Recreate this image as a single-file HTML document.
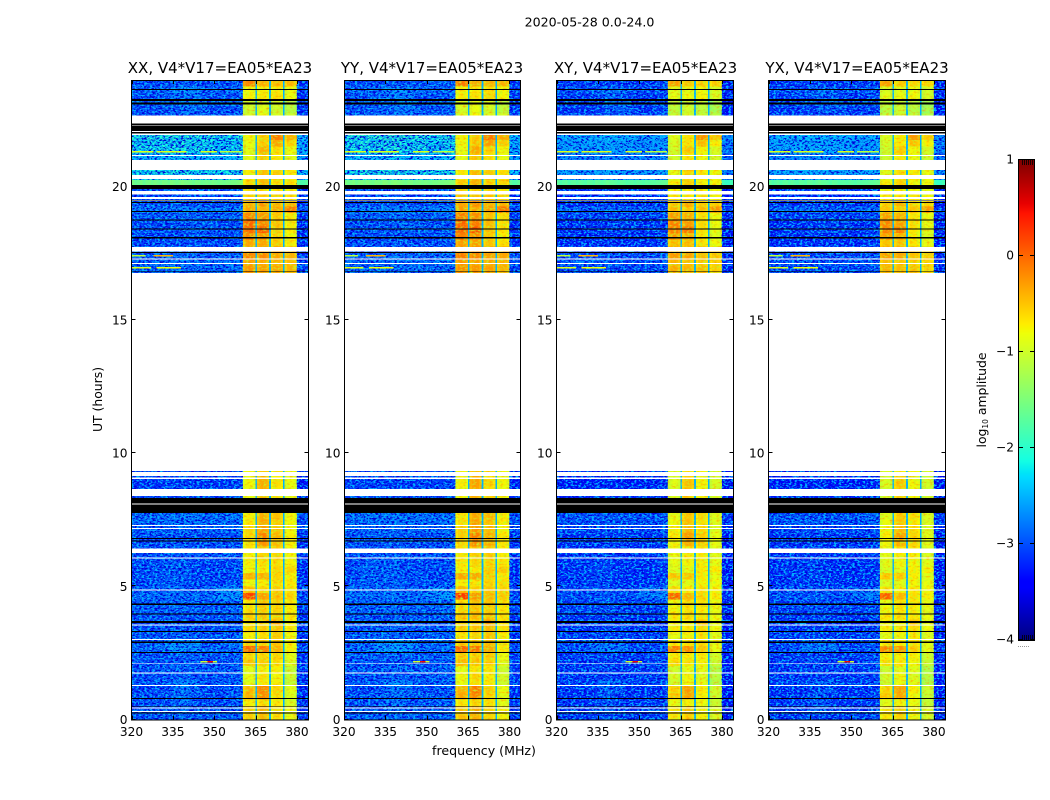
<!DOCTYPE html>
<html lang="en">
<head>
<meta charset="utf-8">
<title>2020-05-28 0.0-24.0</title>
<style>
html,body{margin:0;padding:0;background:#fff;}
svg{display:block;}
text{font-family:"DejaVu Sans","Liberation Sans",sans-serif;fill:#000;}
</style>
</head>
<body>
<svg id="figure" xmlns="http://www.w3.org/2000/svg" width="1050" height="800" viewBox="0 0 1050 800">
  <defs>
    <filter id="speckle" x="0" y="0" width="100%" height="100%" color-interpolation-filters="sRGB">
      <feTurbulence type="fractalNoise" baseFrequency="0.38 0.6" numOctaves="2" seed="7" result="noise"/>
      <feColorMatrix in="noise" type="matrix" values="0 0 0 0 0  0 0 0 0 0  0 0 0 0 0.85  7 0 0 0 -3.3" result="darkSpots"/>
      <feColorMatrix in="noise" type="matrix" values="0 0 0 0 0  0 0 0 0 0.68  0 0 0 0 1  0 7 0 0 -3.5" result="lightSpots"/>
      <feMerge>
        <feMergeNode in="darkSpots"/>
        <feMergeNode in="lightSpots"/>
      </feMerge>
    </filter>
    <filter id="bandSpeckle" x="0" y="0" width="100%" height="100%" color-interpolation-filters="sRGB">
      <feTurbulence type="fractalNoise" baseFrequency="0.3 0.5" numOctaves="2" seed="11" result="noise"/>
      <feColorMatrix in="noise" type="matrix" values="0 0 0 0 1  0 0 0 0 0.6  0 0 0 0 0  2.2 0 0 0 -1.1" result="warmSpots"/>
      <feColorMatrix in="noise" type="matrix" values="0 0 0 0 0.75  0 0 0 0 1  0 0 0 0 0.15  0 2.5 0 0 -1.2" result="coolSpots"/>
      <feMerge>
        <feMergeNode in="warmSpots"/>
        <feMergeNode in="coolSpots"/>
      </feMerge>
    </filter>
  </defs>
  <text x="589.5" y="26.5" font-size="12.6" text-anchor="middle">2020-05-28 0.0-24.0</text>
  <text x="220" y="73" font-size="15" text-anchor="middle">XX, V4*V17=EA05*EA23</text>
  <text x="432" y="73" font-size="15" text-anchor="middle">YY, V4*V17=EA05*EA23</text>
  <text x="645.5" y="73" font-size="15" text-anchor="middle">XY, V4*V17=EA05*EA23</text>
  <text x="857" y="73" font-size="15" text-anchor="middle">YX, V4*V17=EA05*EA23</text>
  <text x="484" y="755" font-size="12.6" text-anchor="middle">frequency (MHz)</text>
  <text x="102" y="399.5" font-size="12.4" text-anchor="middle" transform="rotate(-90 102 399.5)">UT (hours)</text>
  <text x="986" y="400" font-size="12.4" text-anchor="middle" transform="rotate(-90 986 400)">log<tspan font-size="7.5" dy="2">10</tspan><tspan dy="-2"> amplitude</tspan></text>
  <g id="panels"></g>
  <g id="colorbar"></g>
</svg>
<script>
// ---- Chart data ----
const panelNames = ['xx', 'yy', 'xy', 'yx'];
const panelBackgroundOffset = [-0.13, -0.1, -0.28, -0.28];
const panelBandOffset = [0, 0.05, -0.12, -0.15];
// Extra brightness of the 20-22 h background, which is lighter in XX and YY.
const lateBackgroundStartHour = 20.25;
const lateBackgroundEndHour = 22;
const panelLateOffset = [0.25, 0.25, 0, 0.05];
// Rows brighter than this stay solid (no speckle), such as the green 20 h strip.
const solidRowThreshold = -2;

// UT bins of 0.25 h, starting at 0 h. null = no data.
const utBinHours = 0.25;
const backgroundLevel = [
  -2.85,-2.9,-2.9,-2.9,-2.95,-2.85,-2.9,-2.85,
  -2.9,-2.85,-2.75,-2.8,-2.85,-2.9,-2.85,-2.9,
  -2.8,-2.8,-2.75,-2.8,-2.95,-2.95,-2.95,-2.95,
  -2.9,-2.95,-2.9,-2.9,-2.8,-2.75,-2.7,-2.85,
  -3,-2.95,-3,-3.05,-3,-2.9,null,null,
  null,null,null,null,null,null,null,null,
  null,null,null,null,null,null,null,null,
  null,null,null,null,null,null,null,null,
  null,null,null,-2.8,-2.75,-2.8,-2.85,-2.95,
  -2.95,-2.9,-2.95,-2.85,-2.65,-2.95,-2.95,-2.9,
  -1.45,-2.25,-2.25,-2.25,-2.45,-2.35,-2.35,-2.25,
  -2.4,-2.8,-2.8,-2.9,-2.8,-2.9,-2.75,-2.9
];
const bandALevel = [
  -.5,-.5,-.7,-.35,-.4,-.85,-.8,-.85,
  -.45,-.55,.05,-.5,-.7,-.55,-.6,-.5,
  -.6,-.65,.25,-.45,-.75,-.35,-.75,-.7,
  -.7,-.65,-.6,-.55,-.55,-.65,-.7,-.7,
  -.8,-.8,-.8,-.75,-.8,-.75,null,null,
  null,null,null,null,null,null,null,null,
  null,null,null,null,null,null,null,null,
  null,null,null,null,null,null,null,null,
  null,null,null,-.2,-.25,-.1,-.2,-.3,
  -.1,.05,.05,-.1,-.3,-.35,-.5,-.6,
  -.55,-.7,-.7,-.5,-.85,-.85,-.8,-.75,
  -.75,-.9,-.9,-1,-.95,-.7,-.75,-.1
];
const bandBLevel = [
  -.4,-.35,-.6,-.15,-.1,-.65,-.6,-.7,
  -.5,-.55,-.05,-.5,-.6,-.5,-.55,-.45,
  -.5,-.45,-.25,-.55,-.7,-.35,-.7,-.6,
  -.55,-.5,-.2,-.1,-.25,-.3,-.35,-.3,
  -.5,-.4,-.35,-.3,-.4,-.5,null,null,
  null,null,null,null,null,null,null,null,
  null,null,null,null,null,null,null,null,
  null,null,null,null,null,null,null,null,
  null,null,null,-.25,-.3,-.15,-.2,-.3,
  -.2,.1,-.1,-.2,-.35,-.2,-.5,-.6,
  -.4,-.45,-.45,-.25,-.5,-.35,-.5,-.5,
  -.5,-.8,-.8,-.85,-.9,-.65,-.7,-.35
];
const bandCLevel = [
  -.6,-.6,-.65,-.6,-.55,-.7,-.75,-.7,
  -.6,-.55,-.35,-.45,-.5,-.45,-.3,-.5,
  -.55,-.5,-.45,-.5,-.6,-.55,-.55,-.6,
  -.55,-.5,-.4,-.4,-.45,-.5,-.45,-.5,
  -.65,-.6,-.65,-.6,-.7,-.6,null,null,
  null,null,null,null,null,null,null,null,
  null,null,null,null,null,null,null,null,
  null,null,null,null,null,null,null,null,
  null,null,null,-.3,-.35,-.3,-.25,-.5,
  -.55,-.5,-.45,-.5,-.3,-.4,-.5,-.6,
  -.6,-.5,-.55,-.4,-.65,-.6,-.3,-.05,
  -.6,-.9,-.9,-1,-.95,-.6,-.65,-.4
];
const bandDLevel = [
  -.8,-.75,-.9,-.9,-.85,-1.05,-1,-1.05,
  -.9,-.85,-.7,-.7,-.75,-.65,-.7,-.65,
  -.7,-.65,-.55,-.6,-.65,-.7,-.55,-.7,
  -.75,-.75,-.7,-.7,-.75,-.75,-.75,-.8,
  -.85,-.8,-.85,-.8,-.85,-.8,null,null,
  null,null,null,null,null,null,null,null,
  null,null,null,null,null,null,null,null,
  null,null,null,null,null,null,null,null,
  null,null,null,-.4,-.4,-.35,-.3,-.65,
  -.75,-.7,-.65,-.65,-.05,-.4,-.6,-.7,
  -.6,-.65,-.65,-.55,-.85,-.8,-.55,-.35,
  -.6,-1,-1,-1.15,-1.15,-.8,-.8,-.4
];
// Per-channel background offset: 320..360 MHz in 1 MHz channels, then 380..384.
const backgroundChannelOffset = [
  .05,-.05,0,.05,-.05,.02,.04,-.02,.05,0,
  -.03,.05,.03,-.02,.08,.05,0,.05,.1,.06,
  .05,.02,-.02,.05,.03,-.03,0,.02,-.02,.03,
  0,-.03,.02,0,.03,.02,.05,.05,.08,.1,.12
];
const edgeChannelOffset = [-.12, -.2, -.2, -.12];
// Four receiver sub-bands and the narrow gaps between them (MHz).
const bandStartMHz = [360.4, 365.5, 370.5, 375.5];
const bandEndMHz = [364.9, 369.9, 374.9, 380];
const gapStartMHz = [364.9, 369.9, 374.9];
const gapEndMHz = [365.5, 370.5, 375.5];
const gapLevel = -2.5;
const bandColumnOffset = [-.15, -.03, 0, -.03, -.12];
// Brighter diffuse patches of the background.
const patchStartHour = [2.5, 1.0, 0.4, 4.5, 22.9, 23.3, 21.25, 18.25, 5.0];
const patchEndHour = [2.9, 1.5, 0.9, 5.0, 23.25, 23.7, 22.0, 18.75, 6.0];
const patchStartMHz = [332, 335, 335, 350, 338, 335, 320, 340, 325];
const patchEndMHz = [345, 345, 342, 360, 348, 345, 350, 350, 340];
const patchGain = [.25, .2, .15, .25, .2, .2, .08, .12, .08];
// Narrow bright interference streaks.
const streakHour = [2.16, 2.16, 21.3, 21.3, 21.3, 21.3, 16.95, 16.95, 17.4, 17.4];
const streakStartMHz = [345, 347.5, 320, 329, 345, 352, 320, 329, 320, 328];
const streakEndMHz = [351, 349.5, 328, 340, 351, 360, 327, 338, 325, 335];
const streakLevel = [-1, .5, -.9, -.9, -.9, -1.1, -.9, -.8, -1.1, -.4];
// Flagged time ranges, shown as white gaps (no data).
const blankStartHour = [22.37,22.27,22.05,21.94,21.14,20.62,20.28,19.71,19.54,19.45,17.56,17.27,17.1,9.33,9.14,9.03,8.39,8.07,7.26,7.15,6.24,6.04,4.84,3.53,2.99,2.08,1.73,1.26,.42,.28];
const blankEndHour = [22.66,22.31,22.08,21.99,21.18,20.99,20.43,19.84,19.6,19.47,17.74,17.3,17.13,16.76,9.29,9.09,8.65,8.11,7.3,7.19,6.41,6.08,4.88,3.56,3.02,2.11,1.76,1.29,.45,.31];
// Fully-zero time ranges, shown as black rows.
const blackStartHour = [23.62,23.22,23.08,22.3,22.08,21.99,19.9,19.48,19.38,19.05,18.73,18.39,18.06,17.5,16.79,8.11,7.75,6.78,6.68,4.3,3.94,3.63,3.29,2.88,2.5,.77,.48,.23];
const blackEndHour = [23.66,23.287,23.156,22.37,22.27,22.05,20.06,19.5,19.43,19.09,18.77,18.43,18.1,17.54,16.82,8.32,8.07,6.82,6.72,4.36,3.98,3.7,3.33,2.92,2.54,.8,.51,.26];
// Axis ticks
const xTickValues = [320, 335, 350, 365, 380];
const xTickLabels = ['320', '335', '350', '365', '380'];
const yTickValues = [0, 5, 10, 15, 20];
const yTickLabels = ['0', '5', '10', '15', '20'];
const colorbarTickValues = [-4, -3, -2, -1, 0, 1];
const colorbarTickLabels = ['\u22124', '\u22123', '\u22122', '\u22121', '0', '1'];

// ---- Layout ----
const panelLeft = [131.5, 344, 556.5, 768.5];
const panelWidth = 176.5, plotTop = 80, plotBottom = 719.5;
const freqMin = 320, freqMax = 384, utMin = 0, utMax = 24;
const vMin = -4, vMax = 1;
const SVGNS = 'http://www.w3.org/2000/svg';
const xScale = (p, f) => panelLeft[p] + (f - freqMin) / (freqMax - freqMin) * panelWidth;
const yScale = h => plotBottom - (h - utMin) / (utMax - utMin) * (plotBottom - plotTop);

// Matplotlib "jet" segments
const jetR = [[0,0],[.35,0],[.66,1],[.89,1],[1,.5]];
const jetG = [[0,0],[.125,0],[.375,1],[.64,1],[.91,0],[1,0]];
const jetB = [[0,.5],[.11,1],[.34,1],[.65,0],[1,0]];
function seg(table, t) {
  for (let i = 1; i < table.length; i++) {
    if (t <= table[i][0]) {
      const a = table[i - 1], b = table[i];
      return a[1] + (b[1] - a[1]) * (t - a[0]) / (b[0] - a[0]);
    }
  }
  return table[table.length - 1][1];
}
function jet(v) {
  const t = Math.max(0, Math.min(1, (v - vMin) / (vMax - vMin)));
  return 'rgb(' + Math.round(seg(jetR, t) * 255) + ',' + Math.round(seg(jetG, t) * 255) + ',' + Math.round(seg(jetB, t) * 255) + ')';
}
function shape(tag, parent, attrs) {
  const el = document.createElementNS(SVGNS, tag);
  for (const k in attrs) el.setAttribute(k, attrs[k]);
  parent.appendChild(el);
  return el;
}
function band(parent, x0, x1, y0, y1, fill) {
  return shape('rect', parent, {x: x0, y: y1, width: x1 - x0, height: y0 - y1, fill: fill, 'shape-rendering': 'crispEdges'});
}
function patchGainAt(hour, mhz) {
  let g = 0;
  for (let i = 0; i < patchGain.length; i++) {
    if (hour + utBinHours > patchStartHour[i] && hour < patchEndHour[i] && mhz >= patchStartMHz[i] && mhz < patchEndMHz[i]) g += patchGain[i];
  }
  return g;
}

const panelsRoot = document.getElementById('panels');
const bandLevels = [bandALevel, bandBLevel, bandCLevel, bandDLevel];

panelNames.forEach(function (name, p) {
  const g = shape('g', panelsRoot, {});
  
  
  const xs = f => xScale(p, f);
  const backgroundAt = function (b, off, f0) {
    const h0 = utMin + b * utBinHours;
    const late = (h0 >= lateBackgroundStartHour && h0 < lateBackgroundEndHour) ? panelLateOffset[p] : 0;
    return backgroundLevel[b] + off + panelBackgroundOffset[p] + late + patchGainAt(h0, f0);
  };

  backgroundLevel.forEach(function (level, b) {
    if (level === null) return;
    const h0 = utMin + b * utBinHours, h1 = h0 + utBinHours;
    const y0 = yScale(h0), y1 = yScale(h1);
    // background channels below the band
    backgroundChannelOffset.forEach(function (off, k) {
      const f0 = freqMin + k, f1 = Math.min(f0 + 1, bandStartMHz[0]);
      const cell = band(g, xs(f0), xs(f1), y0, y1, jet(backgroundAt(b, off, f0)));
      
      
    });
    // channels above the band
    edgeChannelOffset.forEach(function (off, k) {
      const f0 = bandEndMHz[3] + k;
      const cell = band(g, xs(f0), xs(f0 + 1), y0, y1, jet(backgroundAt(b, off, f0)));
      
      
    });
    // sub-bands
    bandLevels.forEach(function (levels, s) {
      const lv = levels[b];
      const step = (bandEndMHz[s] - bandStartMHz[s]) / bandColumnOffset.length;
      bandColumnOffset.forEach(function (off, c) {
        const f0 = bandStartMHz[s] + c * step;
        const cell = band(g, xs(f0), xs(f0 + step), y0, y1, jet(lv + off + panelBandOffset[p]));
        
        
      });
    });
    gapStartMHz.forEach(function (f0, s) {
      const cell = band(g, xs(f0), xs(gapEndMHz[s]), y0, y1, jet(gapLevel));
      
      
    });
  });

  // speckle textures over the cells (flagged gaps are painted on top of them)
  const speckleLow = band(g, xs(freqMin), xs(bandStartMHz[0]), yScale(utMin), yScale(utMax), '#000');
  speckleLow.setAttribute('filter', 'url(#speckle)');
  
  
  const speckleHigh = band(g, xs(bandEndMHz[3]), xs(freqMax), yScale(utMin), yScale(utMax), '#000');
  speckleHigh.setAttribute('filter', 'url(#speckle)');
  
  
  bandStartMHz.forEach(function (f0, s) {
    const sp = band(g, xs(f0), xs(bandEndMHz[s]), yScale(utMin), yScale(utMax), '#000');
    sp.setAttribute('filter', 'url(#bandSpeckle)');
    
    
  });

  // bright rows are repainted solid above the speckle
  backgroundLevel.forEach(function (level, b) {
    if (level === null || level < solidRowThreshold) return;
    const h0 = utMin + b * utBinHours;
    backgroundChannelOffset.forEach(function (off, k) {
      const f0 = freqMin + k, f1 = Math.min(f0 + 1, bandStartMHz[0]);
      const cell = band(g, xs(f0), xs(f1), yScale(h0), yScale(h0 + utBinHours), jet(backgroundAt(b, off, f0)));
      
      
    });
    edgeChannelOffset.forEach(function (off, k) {
      const f0 = bandEndMHz[3] + k;
      const cell = band(g, xs(f0), xs(f0 + 1), yScale(h0), yScale(h0 + utBinHours), jet(backgroundAt(b, off, f0)));
      
      
    });
  });

  streakHour.forEach(function (h, i) {
    const s = band(g, xs(streakStartMHz[i]), xs(streakEndMHz[i]), yScale(h - 0.02), yScale(h + 0.03), jet(streakLevel[i]));
    
    
  });
  blankStartHour.forEach(function (h, i) {
    const s = band(g, xs(freqMin), xs(freqMax), yScale(h), yScale(blankEndHour[i]), '#ffffff');
    
    
  });
  blackStartHour.forEach(function (h, i) {
    const s = band(g, xs(freqMin), xs(freqMax), yScale(h), yScale(blackEndHour[i]), '#000000');
    
    
  });

  // frame
  const frameLeft = Math.floor(panelLeft[p]) + 0.5;
  const frameRight = Math.floor(panelLeft[p] + panelWidth) + 0.5;
  const frame = shape('rect', g, {x: frameLeft, y: plotTop + 0.5, width: frameRight - frameLeft, height: plotBottom - plotTop, fill: 'none', stroke: '#000', 'stroke-width': 1});
  
  

  // x ticks
  xTickValues.forEach(function (v, i) {
    const x = Math.round(xs(v)) + 0.5;
    const t1 = shape('line', g, {x1: x, x2: x, y1: plotBottom, y2: plotBottom - 4, stroke: '#000'});
    
    
    const t2 = shape('line', g, {x1: x, x2: x, y1: plotTop, y2: plotTop + 4, stroke: '#000'});
    
    
    const lab = shape('text', g, {x: xs(v), y: 736, 'font-size': 12.2, 'text-anchor': 'middle'});
    lab.textContent = xTickLabels[i];
    
    
  });
  // y ticks
  yTickValues.forEach(function (v, i) {
    const y = Math.round(yScale(v)) - 0.5;
    const t1 = shape('line', g, {x1: frameLeft, x2: frameLeft + 4, y1: y, y2: y, stroke: '#000'});
    
    
    const t2 = shape('line', g, {x1: frameRight, x2: frameRight - 4, y1: y, y2: y, stroke: '#000'});
    
    
    const lab = shape('text', g, {x: frameLeft - 4, y: yScale(v) + 4.5, 'font-size': 12.2, 'text-anchor': 'end'});
    lab.textContent = yTickLabels[i];
    
    
  });
});

// ---- Colorbar ----
const cbRoot = document.getElementById('colorbar');
const cbLeft = 1019, cbRight = 1034, cbTop = 160, cbBottom = 640;
const cbY = v => cbBottom - (v - vMin) / (vMax - vMin) * (cbBottom - cbTop);
for (let i = 0; i < 240; i++) {
  const v0 = vMin + i / 240 * (vMax - vMin), v1 = vMin + (i + 1) / 240 * (vMax - vMin);
  const c = shape('rect', cbRoot, {x: cbLeft, y: cbY(v1), width: cbRight - cbLeft, height: cbY(v0) - cbY(v1) + 0.5, fill: jet((v0 + v1) / 2), 'shape-rendering': 'crispEdges'});
  
  
}
const cbFrame = shape('rect', cbRoot, {x: cbLeft - 0.5, y: cbTop - 0.5, width: cbRight - cbLeft + 1, height: cbBottom - cbTop + 1, fill: 'none', stroke: '#000'});


colorbarTickValues.forEach(function (v, i) {
  const y = Math.round(cbY(v)) - 0.5;
  const a = shape('line', cbRoot, {x1: cbLeft, x2: cbLeft + 4, y1: y, y2: y, stroke: '#000'});
  
  
  const b = shape('line', cbRoot, {x1: cbRight, x2: cbRight - 4, y1: y, y2: y, stroke: '#000'});
  
  
  const lab = shape('text', cbRoot, {x: 1014, y: cbY(v) + 3.5, 'font-size': 12.2, 'text-anchor': 'end'});
  lab.textContent = colorbarTickLabels[i];
  
  
});
[1022, 1024, 1026, 1028, 1030, 1032].forEach(function (x) {
  const a = shape('line', cbRoot, {x1: x + 0.5, x2: x + 0.5, y1: cbTop, y2: cbTop + 5, stroke: '#000', 'stroke-opacity': 0.8});
  
  
  const b = shape('line', cbRoot, {x1: x + 0.5, x2: x + 0.5, y1: cbBottom, y2: cbBottom - 5, stroke: '#000', 'stroke-opacity': 0.8});
  
  
  const d = shape('rect', cbRoot, {x: x - 4, y: 646, width: 1, height: 1, fill: '#999'});
  
  
});
</script>
</body>
</html>
